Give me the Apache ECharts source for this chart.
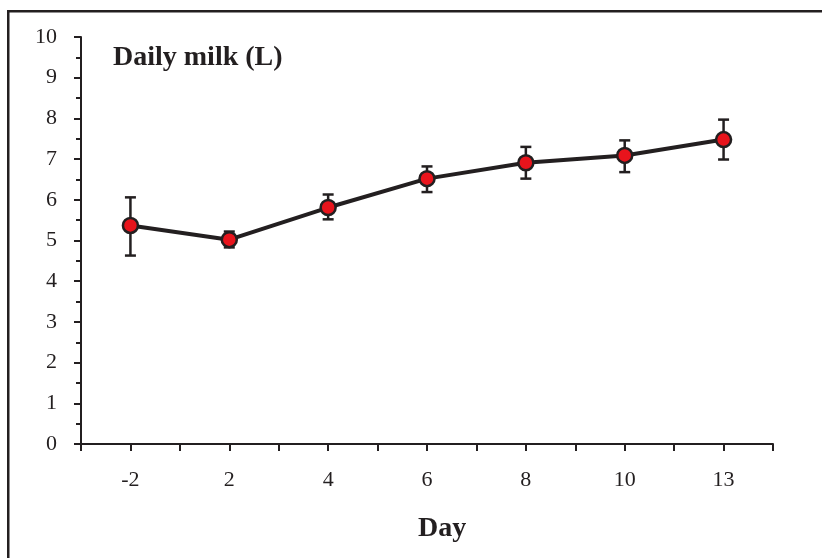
<!DOCTYPE html>
<html><head><meta charset="utf-8">
<script src="https://cdn.jsdelivr.net/npm/echarts@6/dist/echarts.min.js"></script>
<style>html,body{margin:0;padding:0;background:#fff}#c{width:822px;height:558px}</style>
</head><body><div id="c"></div>
<script>
var days = ['-2', '2', '4', '6', '8', '10', '13'];
var milk = [5.37, 5.02, 5.81, 6.52, 6.91, 7.09, 7.48];
var errLow = [4.63, 4.83, 5.52, 6.19, 6.52, 6.68, 6.99];
var errHigh = [6.06, 5.22, 6.13, 6.82, 7.30, 7.46, 7.97];
var yTicks = [0, 1, 2, 3, 4, 5, 6, 7, 8, 9, 10];

var FONT = '"Liberation Serif", "DejaVu Serif", serif';
var DARK = '#231f20';

var lineData = milk.map(function (v, i) { return [i + 0.5, v]; });
var errData = milk.map(function (v, i) { return [i + 0.5, errLow[i], errHigh[i]]; });

var chart = echarts.init(document.getElementById('c'), null, { renderer: 'canvas' });
chart.setOption({
  animation: false,
  backgroundColor: '#fff',
  grid: { left: 81, right: 49, top: 37, bottom: 114 },
  xAxis: {
    type: 'value', min: 0, max: days.length, interval: 0.5,
    splitLine: { show: false },
    axisLine: { show: true, lineStyle: { color: DARK, width: 2 } },
    axisTick: { show: true, length: 7, lineStyle: { color: DARK, width: 2 } },
    axisLabel: {
      margin: 25, color: DARK, fontFamily: FONT, fontSize: 22,
      showMinLabel: true, showMaxLabel: true,
      formatter: function (v) {
        var k = v - 0.5;
        if (Math.abs(k - Math.round(k)) < 1e-6) { return days[Math.round(k)] || ''; }
        return '';
      }
    }
  },
  yAxis: {
    type: 'value', min: yTicks[0], max: yTicks[yTicks.length - 1], interval: 1,
    splitLine: { show: false },
    axisLine: { show: true, lineStyle: { color: DARK, width: 2 } },
    axisTick: { show: true, length: 7, lineStyle: { color: DARK, width: 2 } },
    minorTick: { show: true, splitNumber: 2, length: 5, lineStyle: { color: DARK, width: 2 } },
    axisLabel: { margin: 24, color: DARK, fontFamily: FONT, fontSize: 22 }
  },
  series: [
    {
      type: 'custom',
      data: errData,
      z: 3,
      renderItem: function (params, api) {
        var x = api.value(0);
        var lo = api.coord([x, api.value(1)]);
        var hi = api.coord([x, api.value(2)]);
        var hw = 5.5;
        var st = { stroke: DARK, lineWidth: 2.5 };
        return {
          type: 'group',
          children: [
            { type: 'line', shape: { x1: lo[0], y1: lo[1], x2: hi[0], y2: hi[1] }, style: st },
            { type: 'line', shape: { x1: lo[0] - hw, y1: lo[1], x2: lo[0] + hw, y2: lo[1] }, style: st },
            { type: 'line', shape: { x1: hi[0] - hw, y1: hi[1], x2: hi[0] + hw, y2: hi[1] }, style: st }
          ]
        };
      }
    },
    {
      type: 'line',
      data: lineData,
      z: 4,
      symbol: 'circle',
      symbolSize: 15,
      lineStyle: { color: DARK, width: 4 },
      itemStyle: { color: '#e8141c', borderColor: DARK, borderWidth: 2.5 }
    }
  ],
  graphic: [
    { type: 'rect', shape: { x: 8.25, y: 11.25, width: 900, height: 700 },
      style: { fill: 'none', stroke: DARK, lineWidth: 2.5 }, silent: true },
    { type: 'text', left: 113, top: 44,
      style: { text: 'Daily milk (L)', font: 'bold 28px ' + FONT, fill: DARK } },
    { type: 'text', left: 418, top: 515,
      style: { text: 'Day', font: 'bold 28px ' + FONT, fill: DARK } }
  ]
});
</script>
</body></html>
